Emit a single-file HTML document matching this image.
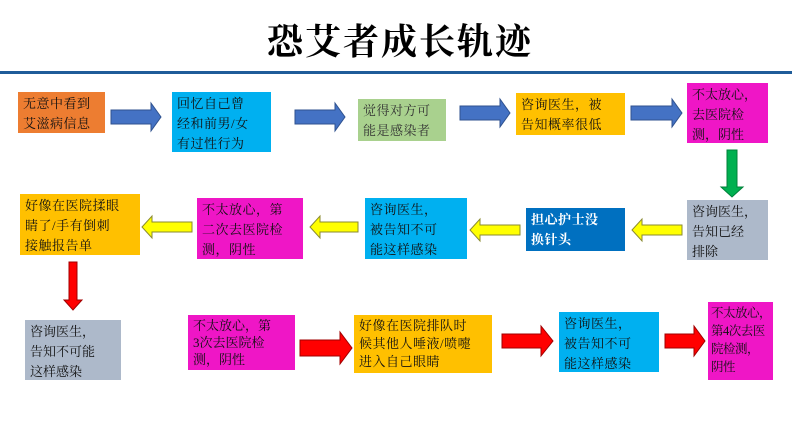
<!DOCTYPE html>
<html><head><meta charset="utf-8"><style>
body{margin:0;width:800px;height:448px;background:#fff;position:relative;overflow:hidden;font-family:"Liberation Serif","Noto Serif CJK SC",serif;}
.t{position:absolute;left:0;width:800px;top:14px;text-align:center;font-size:36px;font-weight:bold;letter-spacing:2px;font-family:"Liberation Serif","Noto Serif CJK SC",serif;color:#000}
.b{position:absolute;box-sizing:border-box;padding:2px 5px 0 5px;font-size:13px;line-height:20px;color:#111;letter-spacing:0.5px;white-space:nowrap;overflow:hidden}
svg{position:absolute;left:0;top:0}
</style></head><body>
<div class="t">恐艾者成长轨迹</div>
<div style="position:absolute;left:0;top:71px;width:792px;height:3px;background:#1F5C99"></div>
<svg width="800" height="448">
<g fill="#4472C4" stroke="#2F528F" stroke-width="1">
<polygon points="111,110 151,110 151,103 161,117 151,131 151,124 111,124"/>
<polygon points="295,110 335,110 335,103 345,117 335,131 335,124 295,124"/>
<polygon points="460,106 500,106 500,99 510,113 500,127 500,120 460,120"/>
<polygon points="631,106 672,106 672,99 682,113 672,127 672,120 631,120"/>
</g>
<polygon fill="#00B050" stroke="#00803a" points="727,150 737,150 737,187 743,187 732,197 721,187 727,187"/>
<g fill="#FFFF00" stroke="#8a8a30" stroke-width="1">
<polygon points="682,225 642,225 642,219 632,230 642,241 642,235 682,235"/>
<polygon points="520,225 480,225 480,219 470,230 480,241 480,235 520,235"/>
<polygon points="358,222 320,222 320,216 310,227 320,238 320,232 358,232"/>
<polygon points="192,222 152,222 152,216 142,227 152,238 152,232 192,232"/>
</g>
<g fill="#FF0000" stroke="#a00000" stroke-width="1">
<polygon points="69,262 77,262 77,300 82,300 73,310 64,300 69,300"/>
<polygon points="300,340 340,340 340,332 352,348 340,364 340,356 300,356"/>
<polygon points="502,334 541,334 541,326 553,341 541,356 541,348 502,348"/>
<polygon points="665,334 694,334 694,326 705,341 694,356 694,348 665,348"/>
</g>
</svg>
<div class="b" style="left:18px;top:92px;width:87px;height:41px;background:#ED7D31;">无意中看到<br>艾滋病信息</div>
<div class="b" style="left:172px;top:92px;width:99px;height:60px;background:#00B0F0;">回忆自己曾<br>经和前男/女<br>有过性行为</div>
<div class="b" style="left:358px;top:99px;width:88px;height:42px;background:#A9D18E;color:#333">觉得对方可<br>能是感染者</div>
<div class="b" style="left:516px;top:93px;width:109px;height:42px;background:#FFC000;">咨询医生，被<br>告知概率很低</div>
<div class="b" style="left:687px;top:83px;width:81px;height:60px;background:#EF16C6;letter-spacing:0">不太放心，<br>去医院检<br>测，阴性</div>
<div class="b" style="left:687px;top:200px;width:81px;height:60px;background:#ADB9CA;letter-spacing:0">咨询医生，<br>告知已经<br>排除</div>
<div class="b" style="left:526px;top:208px;width:99px;height:43px;background:#0070C0;color:#fff;font-weight:bold;">担心护士没<br>换针头</div>
<div class="b" style="left:365px;top:198px;width:102px;height:61px;background:#00B0F0;">咨询医生，<br>被告知不可<br>能这样感染</div>
<div class="b" style="left:197px;top:198px;width:106px;height:61px;background:#EF16C6;">不太放心，第<br>二次去医院检<br>测，阴性</div>
<div class="b" style="left:20px;top:194px;width:120px;height:61px;background:#FFC000;">好像在医院揉眼<br>睛了/手有倒刺<br>接触报告单</div>
<div class="b" style="left:25px;top:320px;width:96px;height:60px;background:#ADB9CA;letter-spacing:0">咨询医生，<br>告知不可能<br>这样感染</div>
<div class="b" style="left:188px;top:315px;width:107px;height:55px;background:#EF16C6;letter-spacing:0;line-height:17px;padding-top:2px">不太放心，第<br>3次去医院检<br>测，阴性</div>
<div class="b" style="left:354px;top:315px;width:138px;height:58px;background:#FFC000;line-height:18px">好像在医院排队时<br>候其他人唾液/喷嚏<br>进入自己眼睛</div>
<div class="b" style="left:559px;top:312px;width:100px;height:60px;background:#00B0F0;">咨询医生，<br>被告知不可<br>能这样感染</div>
<div class="b" style="left:708px;top:302px;width:65px;height:78px;background:#EF16C6;padding:2px 2px 0 3px;letter-spacing:-0.5px;font-size:12.5px;line-height:18px">不太放心，<br>第4次去医<br>院检测，<br>阴性</div>
</body></html>
